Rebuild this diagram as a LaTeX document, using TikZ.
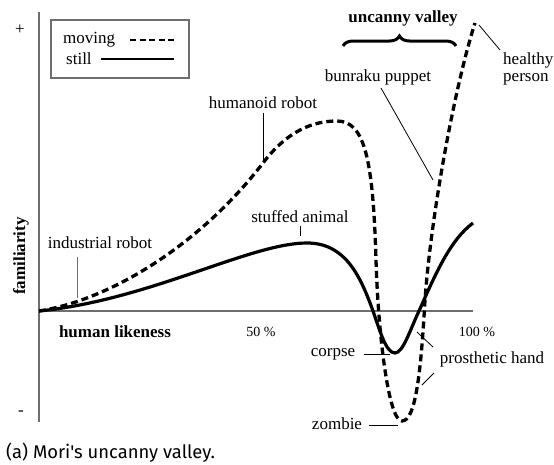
\documentclass[tikz,border=0pt]{standalone}
\usepackage{fontspec}
\setmainfont{Liberation Serif}
\newfontfamily\capfont{Fira Sans}
\usetikzlibrary{decorations.pathreplacing}
\definecolor{axisgray}{RGB}{110,110,110}
\begin{document}
\begin{tikzpicture}[x=1pt,y=-1pt,
  lbl/.style={inner sep=0pt,font=\fontsize{17}{16.5}\selectfont},
  pct/.style={inner sep=0pt,font=\fontsize{14}{16}\selectfont},
  boldlbl/.style={inner sep=0pt,font=\fontsize{17}{19}\selectfont\bfseries},
  axisline/.style={draw=axisgray,line width=2.2pt},
  movingline/.style={line width=3.3pt,dash pattern=on 7pt off 4pt},
  stillline/.style={line width=3.2pt},
  pointer/.style={line width=0.8pt}]
\useasboundingbox (0,0) rectangle (554,464);
% axes
\coordinate (ytop) at (39,12);
\coordinate (ybot) at (39,422);
\coordinate (origin) at (39,311);
\coordinate (xend) at (473,311);
\draw[axisline] (ytop) -- (ybot);
\draw[axisline] (origin) -- (xend);
\node[lbl] (plus) at (20,30) {+};
\node[lbl] (minus) at (21,413) {-};
\node[boldlbl,rotate=90] (fam) at (21,256) {familiarity};
\node[boldlbl] (hl) at (115,332) {human likeness};
\node[pct] (p50) at (261,332) {50 \%};
\node[pct] (p100) at (477,332) {100 \%};
% legend
\node[draw=axisgray,line width=1.8pt,minimum width=138pt,minimum height=58pt,inner sep=0pt] (legend) at (120,49) {};
\node[lbl,anchor=west] (lmov) at (63,40) {moving};
\node[lbl,anchor=west] (lstill) at (66,59) {still};
\coordinate (lm1) at (130,40); \coordinate (lm2) at (174,40);
\coordinate (ls1) at (101,59); \coordinate (ls2) at (174,59);
\draw[line width=2.8pt,dash pattern=on 6pt off 3.5pt] (lm1) -- (lm2);
\draw[line width=2.8pt] (ls1) -- (ls2);
% curves
\coordinate (mv0) at (39,311);
\coordinate (mv1) at (263,163);
\coordinate (mvpeak) at (337,121);
\coordinate (mv2) at (376,260);
\coordinate (mvmin) at (402,421);
\coordinate (mv3) at (425,300);
\coordinate (mvend) at (475,23);
\draw[movingline] (mv0) .. controls (110,300) and (200,245) .. (mv1)
  .. controls (288,130) and (314,121) .. (mvpeak)
  .. controls (365,121) and (373,160) .. (mv2)
  .. controls (378,330) and (388,421) .. (mvmin)
  .. controls (416,421) and (421,370) .. (mv3)
  .. controls (431,215) and (455,85) .. (mvend);
\coordinate (st0) at (39,311);
\coordinate (stpeak) at (307,243);
\coordinate (st1) at (373,311);
\coordinate (stmin) at (395,353);
\coordinate (st2) at (419,311);
\coordinate (stend) at (473,223);
\draw[stillline] (st0) .. controls (150,300) and (250,243) .. (stpeak)
  .. controls (345,243) and (360,275) .. (st1)
  .. controls (380,331) and (386,353) .. (stmin)
  .. controls (403,353) and (410,330) .. (st2)
  .. controls (435,275) and (450,240) .. (stend);
% labels and pointers
\node[boldlbl] (uv) at (403,18) {uncanny valley};
\coordinate (br1) at (343,46); \coordinate (br2) at (456,46);
\draw[line width=3pt,decorate,decoration={brace,amplitude=10pt,aspect=0.5}] (br1) -- (br2);
\node[lbl] (bun) at (378,77) {bunraku puppet};
\coordinate (bunA) at (381,88); \coordinate (bunB) at (433,180);
\draw[pointer] (bunA) -- (bunB);
\node[lbl,anchor=west,align=left] (hp) at (503,69) {healthy\\person};
\coordinate (hpA) at (479,25); \coordinate (hpB) at (500,50);
\draw[pointer] (hpA) -- (hpB);
\node[lbl] (hum) at (263,103) {humanoid robot};
\coordinate (humA) at (263,113); \coordinate (humB) at (263,162);
\draw[pointer] (humA) -- (humB);
\node[lbl] (stf) at (300,217) {stuffed animal};
\coordinate (stfA) at (300,226); \coordinate (stfB) at (300,236);
\draw[pointer] (stfA) -- (stfB);
\node[lbl] (ind) at (100,243) {industrial robot};
\coordinate (indA) at (77,257); \coordinate (indB) at (77,298);
\draw[pointer,draw=axisgray] (indA) -- (indB);
\node[lbl] (cor) at (333,354) {corpse};
\coordinate (corA) at (364,354); \coordinate (corB) at (390,354);
\draw[pointer] (corA) -- (corB);
\node[lbl] (pro) at (492,359) {prosthetic hand};
\coordinate (proA) at (417,332); \coordinate (proB) at (433,347);
\coordinate (proC) at (434,373); \coordinate (proD) at (422,385);
\draw[pointer] (proA) -- (proB);
\draw[pointer] (proC) -- (proD);
\node[lbl] (zom) at (337,424) {zombie};
\coordinate (zomA) at (369,425); \coordinate (zomB) at (398,425);
\draw[pointer] (zomA) -- (zomB);
% caption
\node[inner sep=0pt,anchor=base west,font=\capfont\fontsize{18.4}{20}\selectfont] (cap) at (6,458) {(a) Mori's uncanny valley.};
\end{tikzpicture}
\end{document}
